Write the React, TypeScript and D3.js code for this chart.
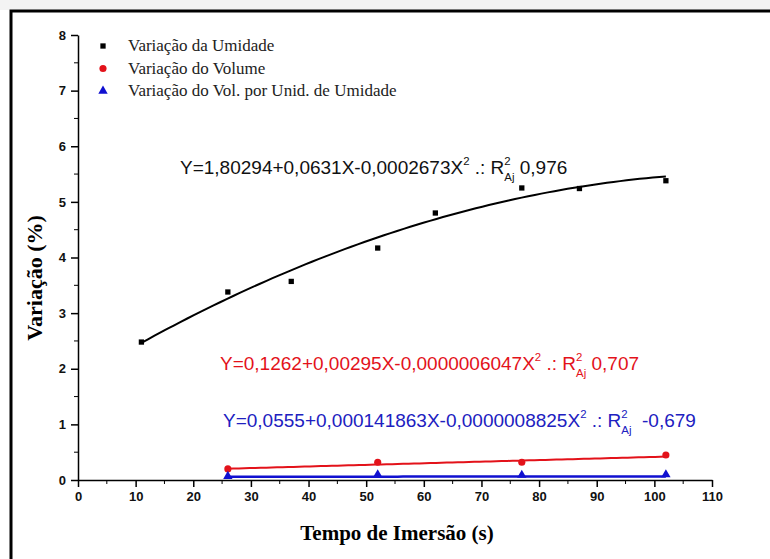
import * as d3 from 'd3'
import React, { useRef, useEffect } from 'react'

// Pontos medidos
const tempo = [11, 26, 37, 52, 62, 77, 87, 102]
const umidade = [2.48, 3.38, 3.57, 4.17, 4.8, 5.25, 5.24, 5.38]
const tempoVol = [26, 52, 77, 102]
const volume = [0.2, 0.32, 0.32, 0.45]
const volPorUmid = [0.05, 0.08, 0.07, 0.08]

// Coeficientes dos ajustes quadraticos (a + bX + cX^2), como impressos no grafico
const coefUmidade = [1.80294, 0.0631, -0.0002673]
const coefVolume = [0.1262, 0.00295, -0.0000006047]
const coefVolPorUmid = [0.0555, 0.000141863, -0.0000008825]

const eqUmidade = ['Y=1,80294+0,0631X-0,0002673X', '0,976']
const eqVolume = ['Y=0,1262+0,00295X-0,0000006047X', '0,707']
const eqVolPorUmid = ['Y=0,0555+0,000141863X-0,0000008825X', ' -0,679']

const legendLabels = [
  'Variação da Umidade',
  'Variação do Volume',
  'Variação do Vol. por Unid. de Umidade',
]

const xTicks = d3.range(0, 111, 10)
const yTicks = d3.range(0, 9, 1)

const BLACK = '#000'
const RED = '#e3121a'
const BLUE = '#1010d0'

const App = () => {
  const ref = useRef<SVGSVGElement | null>(null)

  useEffect(() => {
    const svg = d3.select(ref.current)
    svg.selectAll('*').remove()

    const x = d3.scaleLinear().domain([0, 110]).range([78, 712])
    const y = d3.scaleLinear().domain([0, 8]).range([480, 35])

    // fundo e moldura
    svg.append('rect').attr('width', 770).attr('height', 559).attr('fill', '#fff')
    svg.append('rect').attr('width', 770).attr('height', 10).attr('fill', '#f3f3f3')
    svg.append('path').attr('d', 'M11,559V11H770').attr('fill', 'none')
      .attr('stroke', '#000').attr('stroke-width', 3)

    // eixos
    const xAxis = svg.append('g').attr('transform', `translate(0,${y(0)})`)
      .call(d3.axisBottom(x).tickValues(xTicks).tickSize(7).tickSizeOuter(0).tickPadding(5))
    xAxis.selectAll('text').attr('font-family', 'Liberation Sans, Arial').attr('font-weight', 'bold')
      .attr('font-size', 13).attr('fill', '#111')
    xAxis.append('g').selectAll('line').data(d3.range(5, 110, 10)).join('line')
      .attr('x1', d => x(d)).attr('x2', d => x(d)).attr('y1', 0).attr('y2', 4).attr('stroke', '#000')

    const yAxis = svg.append('g').attr('transform', `translate(${x(0)},0)`)
      .call(d3.axisLeft(y).tickValues(yTicks).tickSize(7).tickSizeOuter(0).tickPadding(5))
    yAxis.selectAll('text').attr('font-family', 'Liberation Sans, Arial').attr('font-weight', 'bold')
      .attr('font-size', 13).attr('fill', '#111')
    yAxis.append('g').selectAll('line').data(d3.range(0.5, 8, 1)).join('line')
      .attr('y1', d => y(d)).attr('y2', d => y(d)).attr('x1', 0).attr('x2', -4).attr('stroke', '#000')
    svg.selectAll('.domain').attr('stroke-width', 1.5)
    svg.selectAll('.tick line').attr('stroke-width', 1.5)

    // titulos dos eixos
    svg.append('text').attr('x', 397).attr('y', 540).attr('text-anchor', 'middle')
      .attr('font-family', 'Liberation Serif, Times New Roman').attr('font-weight', 'bold')
      .attr('font-size', 21).text('Tempo de Imersão (s)')
    svg.append('text').attr('transform', 'translate(42,278) rotate(-90)').attr('text-anchor', 'middle')
      .attr('font-family', 'Liberation Serif, Times New Roman').attr('font-weight', 'bold')
      .attr('font-size', 22).text('Variação (%)')

    // curvas ajustadas
    const poly = (c: number[]) => (t: number) => c[0] + c[1] * t + c[2] * t * t
    const line = d3.line<number[]>().x(d => x(d[0])).y(d => y(d[1])).curve(d3.curveLinear)
    const drawFit = (c: number[], xs: number[], color: string, w: number) => {
      const f = poly(c)
      const lo = d3.min(xs) as number
      const hi = d3.max(xs) as number
      const pts = d3.range(lo, hi + 0.01, (hi - lo) / 80).map(t => [t, f(t)])
      svg.append('path').datum(pts).attr('d', line).attr('fill', 'none')
        .attr('stroke', color).attr('stroke-width', w)
    }
    drawFit(coefUmidade, tempo, BLACK, 2)
    drawFit(coefVolume, tempoVol, RED, 2)
    drawFit(coefVolPorUmid, tempoVol, BLUE, 2.5)

    // marcadores
    const square = d3.symbol().type(d3.symbolSquare).size(28)
    const circle = d3.symbol().type(d3.symbolCircle).size(40)
    const tri = d3.symbol().type(d3.symbolTriangle).size(38)
    svg.append('g').selectAll('path').data(d3.zip(tempo, umidade)).join('path')
      .attr('d', square).attr('fill', BLACK)
      .attr('transform', d => `translate(${x(d[0])},${y(d[1])})`)
    svg.append('g').selectAll('path').data(d3.zip(tempoVol, volume)).join('path')
      .attr('d', circle).attr('fill', RED)
      .attr('transform', d => `translate(${x(d[0])},${y(d[1])})`)
    svg.append('g').selectAll('path').data(d3.zip(tempoVol, volPorUmid)).join('path')
      .attr('d', tri).attr('fill', BLUE)
      .attr('transform', d => `translate(${x(d[0])},${y(d[1]) - 1})`)

    // legenda
    const markers = [square, circle, tri]
    const colors = [BLACK, RED, BLUE]
    legendLabels.forEach((label, i) => {
      const ly = 46 + i * 22.5
      svg.append('path').attr('d', markers[i]).attr('fill', colors[i])
        .attr('transform', `translate(103,${ly})`)
      svg.append('text').attr('x', 128).attr('y', ly + 5)
        .attr('font-family', 'Liberation Serif, Times New Roman').attr('font-size', 17)
        .attr('fill', '#222').text(label)
    })

    // equacoes
    const drawEq = (parts: string[], x0: number, base: number, color: string, size: number) => {
      const g = svg.append('g').attr('fill', color).attr('font-family', 'Liberation Sans, Arial')
      let cx = x0
      const put = (s: string, dy: number, fs: number) => {
        const t = g.append('text').attr('x', cx).attr('y', base + dy).attr('font-size', fs)
          .attr('xml:space', 'preserve').text(s)
        return (t.node() as SVGTextElement).getComputedTextLength()
      }
      cx += put(parts[0], 0, size)
      cx += put('2', -size * 0.45, size * 0.6)
      cx += put(' .: R', 0, size)
      const w1 = put('2', -size * 0.45, size * 0.6)
      const w2 = put('Aj', size * 0.35, size * 0.6)
      cx += Math.max(w1, w2)
      put(' ' + parts[1], 0, size)
    }
    drawEq(eqUmidade, 180, 174, '#111', 19)
    drawEq(eqVolume, 220, 370, RED, 19)
    drawEq(eqVolPorUmid, 223, 427, '#2020c0', 19)
  }, [])

  return (
    <svg ref={ref} width={770} height={559}
      style={{ position: 'absolute', left: 0, top: 0, display: 'block' }} />
  )
}

export default App
